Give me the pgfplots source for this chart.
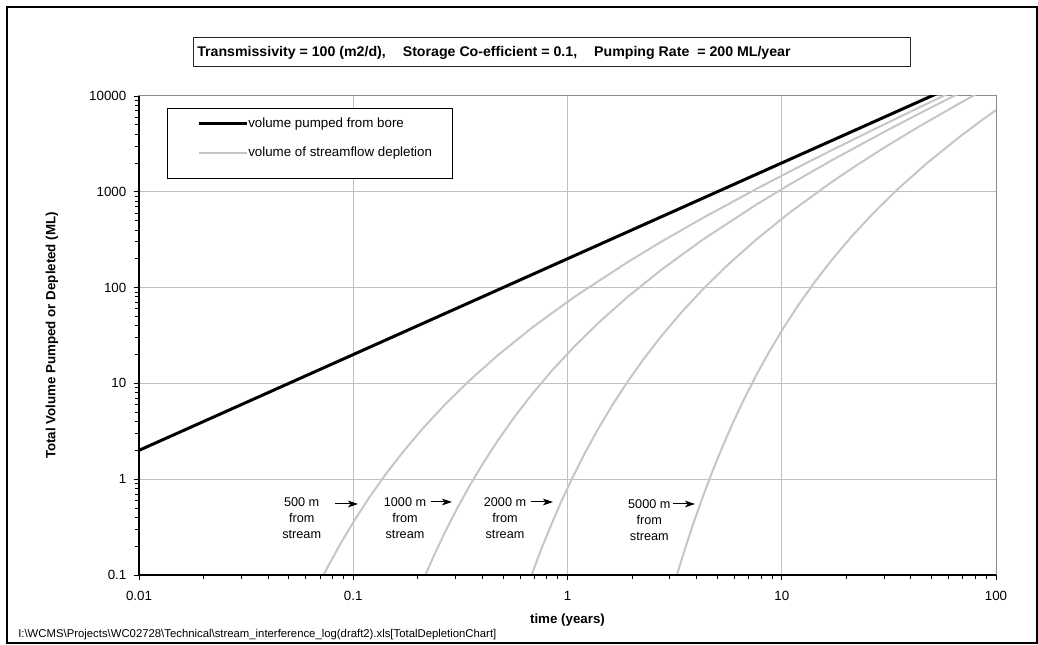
\documentclass[border=0pt]{standalone}
\usepackage{pgfplots}
\pgfplotsset{compat=1.18}
\usepackage{fontspec}
\setmainfont{Liberation Sans}
\usepackage{graphicx}
\usetikzlibrary{arrows.meta}
\definecolor{gridgray}{RGB}{192,192,192}
\definecolor{deplgray}{RGB}{198,198,198}
\definecolor{bordergray}{RGB}{140,140,140}

\begin{document}
\begin{tikzpicture}
\useasboundingbox (0,0) rectangle (778.5pt,483.75pt);
\begin{axis}[
  at={(104.25pt,52.5pt)}, anchor=south west,
  scale only axis, width=642.75pt, height=359.25pt,
  xmode=log, ymode=log,
  xmin=0.01, xmax=100, ymin=0.1, ymax=10000,
  xtick={0.01,0.1,1,10,100}, xticklabels={0.01,0.1,1,10,100},
  ytick={0.1,1,10,100,1000,10000}, yticklabels={0.1,1,10,100,1000,10000},
  minor xtick={0.02,0.03,0.04,0.05,0.06,0.07,0.08,0.09,0.2,0.3,0.4,0.5,0.6,0.7,0.8,0.9,2,3,4,5,6,7,8,9,20,30,40,50,60,70,80,90},
  minor ytick={0.2,0.3,0.4,0.5,0.6,0.7,0.8,0.9,2,3,4,5,6,7,8,9,20,30,40,50,60,70,80,90,200,300,400,500,600,700,800,900,2000,3000,4000,5000,6000,7000,8000,9000},
  xtick pos=bottom, ytick pos=left,
  tick align=outside,
  major tick length=4pt, minor tick length=3pt,
  every tick/.style={black, line width=0.6pt},
  grid=major, major grid style={gridgray, line width=0.75pt},
  axis line style={bordergray, line width=0.75pt},
  tick label style={font=\fontsize{10}{12}\selectfont},
  xticklabel style={yshift=-4.5pt},
  yticklabel style={xshift=-2pt},
  xlabel={\textbf{time (years)}},
  ylabel={\textbf{Total Volume Pumped or Depleted (ML)}},
  label style={font=\fontsize{10}{12}\selectfont},
  xlabel style={at={(axis description cs:0.5,-0.0939)}, anchor=center},
  ylabel style={at={(axis description cs:-0.1015,0.5)}, anchor=center},
]
% volume pumped from bore
\addplot[black, line width=2.25pt] coordinates {(0.01,2) (100,20000)};
% 500 m from stream
\addplot[deplgray, line width=1.5pt] coordinates {
(0.066888,0.06934) (0.076104,0.12219) (0.087364,0.21387) (0.101321,0.37231)
(0.118912,0.64615) (0.141515,1.12001) (0.171233,1.94486) (0.211399,3.39629)
(0.267552,5.99429) (0.349455,10.7676) (0.475647,19.884) (0.684932,38.337)
(1.070206,79.175) (1.902589,183.73) (2.73973,300.89) (4.280825,533.09)
(7.61036,1071.5) (11.8912,1799.6) (17.1233,2717.7) (26.7552,4451.4)
(47.565,8291.8) (56.606,9983.1) (68.4932,12220)};
% 1000 m from stream
\addplot[deplgray, line width=1.5pt] coordinates {
(0.211399,0.086843) (0.237001,0.15623) (0.267552,0.27734) (0.304414,0.48877)
(0.349455,0.85547) (0.405285,1.48926) (0.475647,2.58456) (0.566060,4.48002)
(0.684932,7.77943) (0.845595,13.5851) (1.070206,23.9771) (1.397820,43.0700)
(1.902589,79.536) (2.739728,153.35) (4.280825,316.70) (7.610356,734.92)
(10.95891,1203.6) (17.1233,2132.4) (30.4414,4285.9) (47.5647,7198.3)
(68.4932,10870)};
% 2000 m from stream
\addplot[deplgray, line width=1.5pt] coordinates {
(0.566059,0.030171) (0.621253,0.056583) (0.684932,0.104890) (0.758927,0.192615)
(0.845595,0.347370) (0.948002,0.624922) (1.070205,1.10937) (1.217656,1.95507)
(1.397819,3.42186) (1.621140,5.95704) (1.902587,10.3382) (2.264236,17.9201)
(2.739726,31.1178) (3.382378,54.340) (4.280822,95.908) (5.591278,172.28)
(7.610350,318.15) (10.958904,613.39) (17.123288,1266.8) (22.3651,1893.3)
(30.441400,2939.7) (43.835616,4814.3) (68.493150,8529.5) (84.559444,11063.9)};
% 5000 m from stream
\addplot[deplgray, line width=1.5pt] coordinates {
(2.184093,0.003246) (2.533031,0.013324) (2.972793,0.051548) (3.236917,0.099179)
(3.537869,0.188569) (3.882832,0.35365) (4.280822,0.655565) (4.743293,1.20385)
(5.284966,2.17106) (5.925013,3.90576) (6.688784,6.93361) (7.610350,12.2192)
(8.736371,21.3866) (10.132123,37.2314) (11.891172,64.6141) (14.151478,112.001)
(17.123288,194.486) (21.139862,339.629) (26.755138,599.428) (34.945486,1076.76)
(47.564689,1988.41) (68.493152,3833.70) (84.559447,5449.9) (107.020550,7917.5)};
\end{axis}
\begin{scope}[x=0.75pt, y=-0.75pt, shift={(0,483.75pt)}]
  % black axis lines (left and bottom)
  \draw[black, line width=0.9pt] (139,96) -- (139,575) -- (996,575);
  % outer frame
  \draw[black, line width=1.6pt] (7,7) rectangle (1037,643);
  % title box
  \draw[black!85, line width=0.75pt, fill=white] (193,38) rectangle (910,67);
  \node[anchor=west, inner sep=0pt] at (197,52.5)
    {\resizebox{445pt}{\height}{\bfseries\fontsize{10.5}{12}\selectfont Transmissivity = 100 (m2/d),\hspace{1.2em}Storage Co-efficient = 0.1,\hspace{1.2em}Pumping Rate\ \ = 200 ML/year}};
  % legend
  \draw[black, line width=0.75pt, fill=white] (167,109) rectangle (452,179);
  \draw[black, line width=2.25pt] (199,124) -- (247,124);
  \draw[deplgray, line width=1.5pt] (199,153) -- (247,153);
  \node[anchor=west, inner sep=0pt, font=\fontsize{10}{12}\selectfont] at (248,124) {volume pumped from bore};
  \node[anchor=west, inner sep=0pt, font=\fontsize{10}{12}\selectfont] at (248,153) {volume of streamflow depletion};
  % annotations
  \begin{scope}[every node/.style={align=center, inner sep=0pt, font=\fontsize{9.5}{12}\selectfont}]
    \node at (301.7,518) {500 m\\from\\stream};
    \node at (405,518.5) {1000 m\\from\\stream};
    \node at (505,518.5) {2000 m\\from\\stream};
    \node at (649.3,520) {5000 m\\from\\stream};
  \end{scope}
  \begin{scope}[black, line width=0.75pt, -{Stealth[length=7.5pt,width=5pt,inset=2pt]}]
    \draw (335,504) -- (358,504);
    \draw (431,502) -- (452,502);
    \draw (531,502) -- (553,502);
    \draw (672.7,504) -- (695,504);
  \end{scope}
  % footer
  \node[anchor=west, inner sep=0pt, font=\fontsize{8.5}{10}\selectfont] at (18,635)
    {I:\textbackslash WCMS\textbackslash Projects\textbackslash WC02728\textbackslash Technical\textbackslash stream\_interference\_log(draft2).xls[TotalDepletionChart]};
\end{scope}
\end{tikzpicture}
\end{document}
